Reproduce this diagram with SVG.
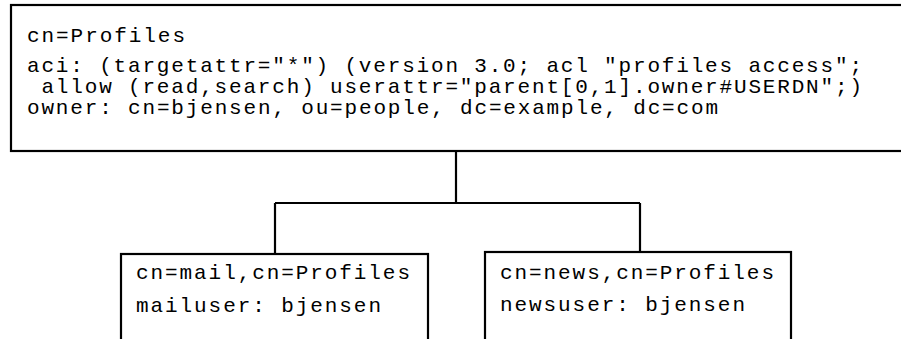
<svg xmlns="http://www.w3.org/2000/svg" width="901" height="339" viewBox="0 0 901 339">
<style>
.box{fill:#fff;stroke:#000;stroke-width:2.2}
.t{font-family:"Liberation Mono","Courier New",monospace;font-size:21px;fill:#000}
.ln{fill:none;stroke:#000;stroke-width:2.2}
</style>
<rect width="901" height="339" fill="#fff"/>
<g id="connectors">
<path class="ln" d="M456,151 V203"/>
<path class="ln" d="M275,203 H640"/>
<path class="ln" d="M275,203 V254"/>
<path class="ln" d="M640,203 V252"/>
</g>
<g id="profiles">
<rect class="box" x="11" y="5" width="900" height="146"/>
<text class="t" x="27" y="42" textLength="158">cn=Profiles</text>
<text class="t" x="27" y="72" textLength="835" xml:space="preserve">aci: (targetattr="*") (version 3.0; acl "profiles access";</text>
<text class="t" x="27" y="93" textLength="835" xml:space="preserve"> allow (read,search) userattr="parent[0,1].owner#USERDN";)</text>
<text class="t" x="27" y="114" textLength="691">owner: cn=bjensen, ou=people, dc=example, dc=com</text>
</g>
<g id="mail">
<rect class="box" x="121" y="254" width="307" height="100"/>
<text class="t" x="136" y="279" textLength="274">cn=mail,cn=Profiles</text>
<text class="t" x="136" y="312" textLength="245">mailuser: bjensen</text>
</g>
<g id="news">
<rect class="box" x="485" y="252" width="306" height="100"/>
<text class="t" x="500" y="279" textLength="274">cn=news,cn=Profiles</text>
<text class="t" x="500" y="311" textLength="245">newsuser: bjensen</text>
</g>
</svg>
